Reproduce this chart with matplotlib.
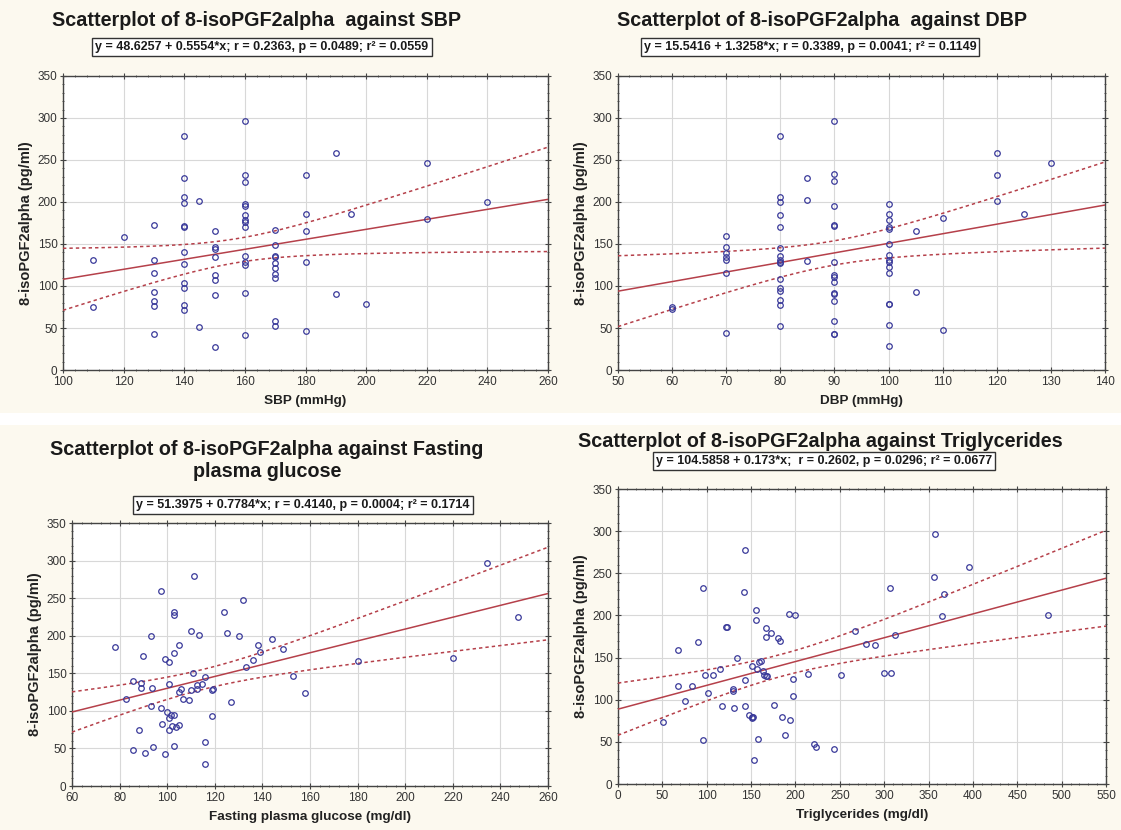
import numpy as np
import matplotlib.pyplot as plt
from matplotlib.ticker import MultipleLocator, AutoMinorLocator
from matplotlib.patches import Rectangle

plt.rcParams['font.family'] = ['Liberation Sans', 'DejaVu Sans']

# --- data ---
sbp = [110, 110, 120,
       130, 130, 130, 130, 130, 130, 130,
       140, 140, 140, 140, 140, 140, 140, 140, 140, 140, 140, 140,
       145, 145,
       150, 150, 150, 150, 150, 150, 150, 150,
       160, 160, 160, 160, 160, 160, 160, 160, 160, 160, 160, 160, 160, 160,
       170, 170, 170, 170, 170, 170, 170, 170, 170, 170,
       180, 180, 180, 180, 180, 190, 190, 195, 200, 220, 220, 240]
iso_sbp = [131, 75, 158,
           173, 131, 115, 93, 82, 76, 43,
           278, 228, 206, 199, 172, 170, 140, 126, 104, 98, 77, 72,
           201, 51,
           165, 146, 144, 135, 113, 107, 89, 27,
           297, 232, 224, 198, 195, 184, 178, 176, 170, 136, 128, 125, 92, 42,
           167, 149, 136, 135, 127, 122, 114, 110, 58, 52,
           232, 186, 165, 129, 47, 258, 91, 186, 79, 247, 180, 200]

dbp = [60, 60,
       70, 70, 70, 70, 70, 70, 70,
       80, 80, 80, 80, 80, 80, 80, 80, 80, 80, 80, 80, 80, 80, 80, 80,
       85, 85, 85,
       90, 90, 90, 90, 90, 90, 90, 90, 90, 90, 90, 90, 90, 90, 90, 90,
       100, 100, 100, 100, 100, 100, 100, 100, 100, 100, 100, 100, 100, 100, 100,
       105, 105, 110, 110, 120, 120, 120, 125, 130]
iso_dbp = [75, 73,
           159, 146, 139, 135, 131, 116, 44,
           278, 206, 200, 185, 170, 145, 136, 131, 129, 127, 108, 98, 94, 83, 77, 52,
           228, 202, 130,
           297, 233, 225, 195, 173, 172, 129, 113, 111, 105, 92, 90, 82, 58, 43, 43,
           198, 186, 178, 170, 168, 150, 137, 131, 128, 123, 116, 79, 78, 53, 28,
           165, 93, 181, 48, 258, 232, 201, 186, 247]

fpg = [78, 82.6, 85.7, 85.7, 88, 89, 89, 89.9, 90.7, 93, 93, 93.8, 94,
       97.2, 97.2, 97.9, 98.9, 99, 100.1, 100.8, 100.8, 100.8, 100.8, 101.8,
       101.9, 102.8, 102.8, 102.9, 102.9, 102.8, 103.9, 104.8, 104.8, 105,
       106, 106.7, 109, 110, 110, 111, 111.2, 112.4, 112.6, 113.2, 114.7,
       115.9, 115.9, 115.9, 119, 119.4, 119, 124, 125, 127, 130.3, 132, 133,
       136, 138, 139, 144.2, 148.8, 153, 158, 180, 220, 234.5, 247.5]
iso_fpg = [185, 116, 140, 48, 75, 137, 131, 173, 44, 200, 107, 130, 52,
           259, 104, 83, 169, 42, 99, 165, 136, 91, 74, 94,
           80, 53, 177, 231, 227, 94, 79, 81, 125, 187,
           129, 116, 115, 206, 128, 151, 279, 135, 129, 201, 136,
           145, 59, 29, 128, 129, 93, 232, 203, 112, 199, 247, 158,
           168, 187, 178, 196, 182, 147, 124, 167, 171, 297, 225]

tg = [50.5, 68, 68, 76, 83.4, 90, 95.3, 96, 98, 101, 107.3, 114.8, 117,
      121.5, 123.4, 129.7, 130, 131, 134, 142.4, 143.6, 142.8, 142.8, 147.3,
      151, 151, 151.4, 152, 153, 155, 156, 156.3, 158, 158.9, 160.7, 163.7,
      164.9, 166.4, 167, 167, 167.5, 172.7, 175.3, 180, 182.8, 184.7, 192.5,
      194.4, 197.4, 197.4, 188.4, 199.6, 214.2, 220.6, 223.2, 243.4, 251.5,
      267, 279, 290, 300, 307.6, 306.4, 312.5, 357.6, 356, 367.4, 365.5,
      395.8, 485]
iso_tg = [73, 159, 116, 98, 116, 168, 232, 52, 129, 108, 129, 136, 93,
          186, 186, 113, 110, 90, 149, 228, 278, 123, 92, 82,
          80, 78, 140, 79, 28, 206, 195, 136, 53, 145, 146, 134,
          129, 128, 185, 174, 128, 179, 94, 173, 170, 80, 202,
          76, 125, 104, 58, 201, 131, 48, 44, 42, 129,
          181, 166, 165, 132, 132, 233, 177, 297, 246, 225, 199,
          258, 200]

titles = ['Scatterplot of 8-isoPGF2alpha  against SBP',
          'Scatterplot of 8-isoPGF2alpha  against DBP',
          'Scatterplot of 8-isoPGF2alpha against Fasting\nplasma glucose',
          'Scatterplot of 8-isoPGF2alpha against Triglycerides']
equations = ['y = 48.6257 + 0.5554*x; r = 0.2363, p = 0.0489; r² = 0.0559',
             'y = 15.5416 + 1.3258*x; r = 0.3389, p = 0.0041; r² = 0.1149',
             'y = 51.3975 + 0.7784*x; r = 0.4140, p = 0.0004; r² = 0.1714',
             'y = 104.5858 + 0.173*x;  r = 0.2602, p = 0.0296; r² = 0.0677']
xlabels = ['SBP (mmHg)', 'DBP (mmHg)', 'Fasting plasma glucose (mg/dl)',
           'Triglycerides (mg/dl)']
xlims = [(100, 260), (50, 140), (60, 260), (0, 550)]
xsteps = [20, 10, 20, 50]

W, H = 1121, 830
fig = plt.figure(figsize=(W / 100, H / 100), dpi=100)
fig.patch.set_facecolor('#fcf9ef')
fig.patches.append(Rectangle((0, 1 - 425 / H), 1, 12 / H, transform=fig.transFigure,
                             facecolor='white', edgecolor='none'))

# axes boxes in pixels: left, top, right, bottom
boxes = [(63, 76, 548, 370), (618, 76, 1105, 370),
         (72, 523, 548, 786), (618, 489, 1106, 784)]
title_pos = [(256, 20), (822, 20), (267, 460), (820, 441)]
eq_pos = [(262, 47), (810, 47), (303, 505), (824, 461)]

datasets = [(sbp, iso_sbp), (dbp, iso_dbp), (fpg, iso_fpg), (tg, iso_tg)]
line_col = '#b5404a'
pt_col = '#3a3a9a'

for i, (xs, ys) in enumerate(datasets):
    l, t, r, b = boxes[i]
    ax = fig.add_axes([l / W, 1 - b / H, (r - l) / W, (b - t) / H])
    ax.set_facecolor('white')
    x = np.array(xs, dtype=float)
    y = np.array(ys, dtype=float)

    # linear fit with 95% confidence band
    n = len(x)
    slope, icpt = np.polyfit(x, y, 1)
    resid = y - (icpt + slope * x)
    s = np.sqrt(np.sum(resid ** 2) / (n - 2))
    sxx = np.sum((x - x.mean()) ** 2)
    xx = np.linspace(xlims[i][0], xlims[i][1], 200)
    yy = icpt + slope * xx
    band = 1.997 * s * np.sqrt(1 / n + (xx - x.mean()) ** 2 / sxx)
    ax.plot(xx, yy, color=line_col, lw=1.1, zorder=3)
    ax.plot(xx, yy + band, color=line_col, lw=1.1, ls=(0, (2.2, 2)), zorder=3)
    ax.plot(xx, yy - band, color=line_col, lw=1.1, ls=(0, (2.2, 2)), zorder=3)

    ax.plot(x, y, 'o', mfc='none', mec=pt_col, mew=0.9, ms=4, zorder=4)

    ax.set_xlim(*xlims[i])
    ax.set_ylim(0, 350)
    ax.xaxis.set_major_locator(MultipleLocator(xsteps[i]))
    ax.yaxis.set_major_locator(MultipleLocator(50))
    ax.xaxis.set_minor_locator(AutoMinorLocator(5))
    ax.yaxis.set_minor_locator(AutoMinorLocator(5))
    ax.grid(True, color='#d8d8d8', lw=0.8)
    ax.set_axisbelow(True)
    ax.tick_params(which='both', direction='inout', top=True, right=True,
                   labelsize=8.5, labelcolor='#333333', color='#444444', pad=2)
    ax.tick_params(which='major', length=4)
    ax.tick_params(which='minor', length=2)
    for sp in ax.spines.values():
        sp.set_color('#444444')
        sp.set_linewidth(1.0)
    ax.set_xlabel(xlabels[i], fontsize=9.7, fontweight='bold', color='#222222', labelpad=5)
    ax.set_ylabel('8-isoPGF2alpha (pg/ml)', fontsize=10.5, fontweight='bold',
                  color='#222222', labelpad=3)

    tx, ty = title_pos[i]
    fig.text(tx / W, 1 - ty / H, titles[i], ha='center', va='center',
             fontsize=14.2, fontweight='bold', color='#1a1a1a', linespacing=1.2)
    ex, ey = eq_pos[i]
    fig.text(ex / W, 1 - ey / H, equations[i], ha='center', va='center',
             fontsize=9, fontweight='bold', color='#1a1a1a',
             bbox=dict(boxstyle='square,pad=0.25', facecolor='white',
                       edgecolor='#333333', lw=1.0))

fig.savefig('out.png', dpi=100, facecolor=fig.get_facecolor())
